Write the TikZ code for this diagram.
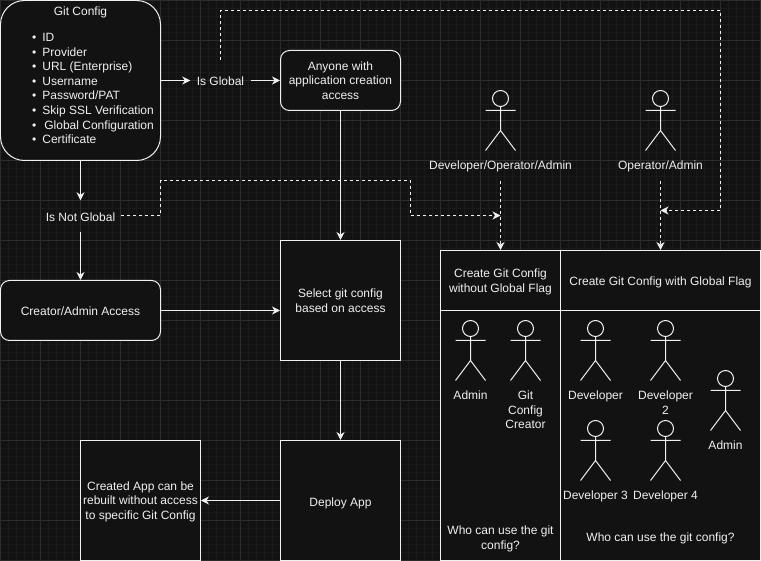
\documentclass[tikz,border=0pt]{standalone}
\usepackage{fontspec}
\setmainfont{Liberation Sans}
\usetikzlibrary{arrows.meta}
\definecolor{canvasbg}{HTML}{121212}
\definecolor{gridminor}{HTML}{1A1A1A}
\definecolor{gridmajor}{HTML}{2C2C2C}
\definecolor{inkline}{HTML}{F0F0F0}
\tikzset{
  every node/.style={text=inkline,font=\fontsize{12}{14.8}\selectfont,align=center,inner sep=0pt,
    execute at begin node={\rule[-3pt]{0pt}{17pt}}},
  manyline/.style={execute at begin node={},text depth=-3pt},
  boxnode/.style={draw=inkline,fill=canvasbg,line width=1pt},
  flowline/.style={draw=inkline,line width=1pt,-{Stealth[length=8pt,width=8pt,inset=2.5pt]}},
  dashline/.style={flowline,dash pattern=on 3pt off 3pt},
  stickman/.pic={
    \draw[inkline,line width=1pt] (0,8) circle[radius=8] (0,16) -- (0,40) (-15,20) -- (15,20) (-15,60) -- (0,40) -- (15,60);
  }
}
\begin{document}
\begin{tikzpicture}[x=1pt,y=-1pt]
  \useasboundingbox (-0.5,-0.5) rectangle (760.5,560.5);
  \fill[canvasbg] (-0.5,-0.5) rectangle (760.5,560.5);
  \foreach \gx in {0,8,...,760} \draw[gridminor,line width=0.6pt] (\gx,-0.5) -- (\gx,560.5);
  \foreach \gy in {0,8,...,560} \draw[gridminor,line width=0.6pt] (-0.5,\gy) -- (760.5,\gy);
  \foreach \gx in {0,40,...,760} \draw[gridmajor,line width=0.8pt] (\gx,-0.5) -- (\gx,560.5);
  \foreach \gy in {0,40,...,560} \draw[gridmajor,line width=0.8pt] (-0.5,\gy) -- (760.5,\gy);

  \node[boxnode,rounded corners=24pt,minimum width=160pt,minimum height=160pt] (gitconfig) at (80,80) {};
  \node (gittitle) at (80,9.5) {Git Config};
  \node[manyline,anchor=west,align=left,font=\fontsize{12}{14.6}\selectfont] (gitlist) at (31.5,88) {%
    \textbullet\hspace{6pt}ID\\
    \textbullet\hspace{6pt}Provider\\
    \textbullet\hspace{6pt}URL (Enterprise)\\
    \textbullet\hspace{6pt}Username\\
    \textbullet\hspace{6pt}Password/PAT\\
    \textbullet\hspace{6pt}Skip SSL Verification\\
    \textbullet\hspace{8pt}Global Configuration\\
    \textbullet\hspace{6pt}Certificate};

  \node[minimum width=60pt,minimum height=40pt] (isglobal) at (220,80) {Is Global};
  \node[minimum width=80pt,minimum height=31pt] (isnotglobal) at (80,215.5) {Is Not Global};
  \node[manyline,boxnode,rounded corners=9pt,minimum width=120pt,minimum height=60pt] (anyone) at (340,80) {Anyone with\\application creation\\access};
  \node[boxnode,rounded corners=9pt,minimum width=160pt,minimum height=60pt] (creator) at (80,310) {Creator/Admin Access};
  \node[manyline,boxnode,minimum width=120pt,minimum height=120pt] (selectcfg) at (340,300) {Select git config\\based on access};
  \node[boxnode,minimum width=120pt,minimum height=120pt] (deploy) at (340,500) {Deploy App};
  \node[manyline,boxnode,minimum width=120pt,minimum height=120pt] (created) at (140,500) {Created App can be\\rebuilt without access\\to specific Git Config};

  \node[manyline,boxnode,minimum width=120pt,minimum height=60pt] (nohead) at (500,280) {Create Git Config\\without Global Flag};
  \node[boxnode,minimum width=200pt,minimum height=60pt] (globhead) at (660,280) {Create Git Config with Global Flag};
  \node[boxnode,minimum width=120pt,minimum height=250pt] (nobody) at (500,435) {};
  \node[boxnode,minimum width=200pt,minimum height=250pt] (globbody) at (660,435) {};

  \pic at (500,90) {stickman};
  \pic at (660,90) {stickman};
  \node[minimum height=33pt] (devop) at (500,163.5) {Developer/Operator/Admin};
  \node[minimum height=33pt] (opadmin) at (660,163.5) {Operator/Admin};

  \pic at (470,320) {stickman};
  \pic at (525,320) {stickman};
  \pic at (595,320) {stickman};
  \pic at (665,320) {stickman};
  \pic at (595,420) {stickman};
  \pic at (665,420) {stickman};
  \pic at (725,370) {stickman};
  \node (noadmin) at (470,393.5) {Admin};
  \node[manyline,anchor=north] (creatorname) at (525,390) {Git\\Config\\Creator};
  \node (devone) at (595,393.5) {Developer};
  \node[manyline,anchor=north] (devtwo) at (665,390) {Developer\\2};
  \node (devthree) at (595,493.5) {Developer 3};
  \node (devfour) at (665,493.5) {Developer 4};
  \node (globadmin) at (725,443.5) {Admin};
  \node[manyline] (nowho) at (500,537) {Who can use the git\\config?};
  \node (globwho) at (660,535.5) {Who can use the git config?};

  \coordinate (topright) at (720,10);
  \coordinate (midright) at (720,210);
  \coordinate (globin) at (660,210);
  \coordinate (notcorner) at (160,215);
  \coordinate (nottop) at (160,180);
  \coordinate (notdrop) at (410,180);
  \coordinate (noin) at (500,215);

  \draw[flowline] (gitconfig.east) -- (isglobal.west);
  \draw[flowline] (isglobal.east) -- (anyone.west);
  \draw[flowline] (gitconfig.south) -- (isnotglobal.north);
  \draw[flowline] (isnotglobal.south) -- (creator.north);
  \draw[flowline] (anyone.south) -- (selectcfg.north);
  \draw[flowline] (creator.east) -- (selectcfg.west |- creator.east);
  \draw[flowline] (selectcfg.south) -- (deploy.north);
  \draw[flowline] (deploy.west) -- (created.east);
  \draw[dashline] (isglobal.north) |- (topright) -- (midright) -- (globin);
  \draw[dashline] (isnotglobal.east |- notcorner) -- (notcorner) -- (nottop) -- (notdrop) |- (noin);
  \draw[dashline] (devop.south) -- (nohead.north);
  \draw[dashline] (opadmin.south) -- (globhead.north);
\end{tikzpicture}
\end{document}
